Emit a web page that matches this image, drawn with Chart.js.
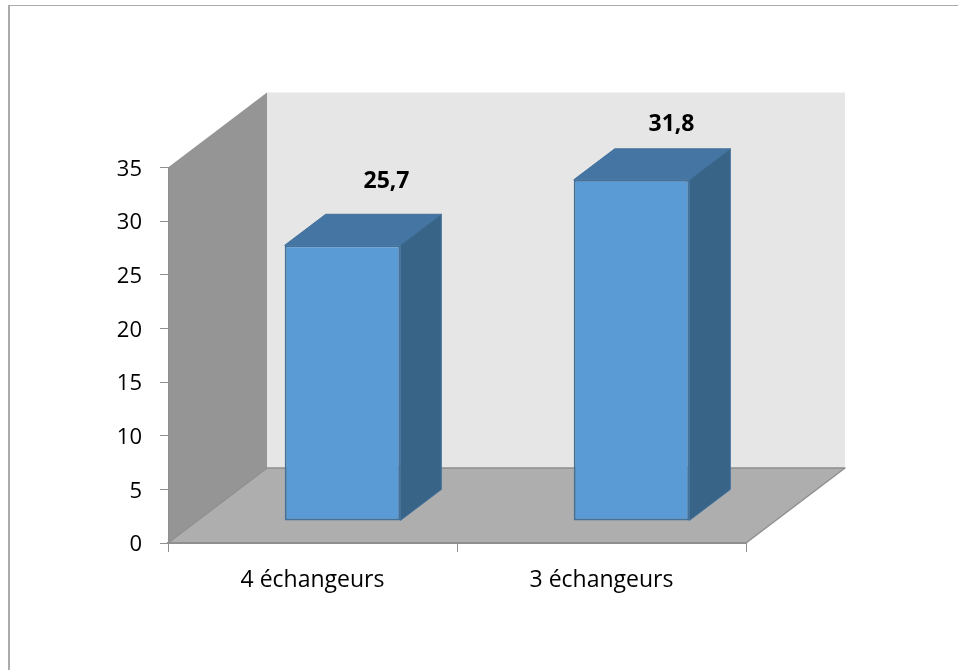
<!DOCTYPE html>
<html lang="fr">
<head>
<meta charset="utf-8">
<title>Échangeurs</title>
<script src="https://cdn.jsdelivr.net/npm/chart.js@4/dist/chart.umd.min.js"></script>
<style>
  html, body { margin: 0; padding: 0; background: #fff; }
  #wrap { position: relative; width: 958px; height: 670px; overflow: hidden; }
  canvas { display: block; }
</style>
</head>
<body>
<div id="wrap"><canvas id="chart" width="958" height="670"></canvas></div>
<script>
const categories = ['4 échangeurs', '3 échangeurs'];
const values = [25.7, 31.8];
const valueLabels = ['25,7', '31,8'];
const yTicks = [0, 5, 10, 15, 20, 25, 30, 35];

// Perspective of the 3D box: how far the back plane sits from the front plane.
const WALL_DX = 99, WALL_DY = 75;
// Column placement inside the box, and the depth of each column.
const BAR_DX = 30, BAR_DY = 22, BAR_DEPTH_X = 41, BAR_DEPTH_Y = 31;
// Value label offsets from the centre of each column's front top edge.
const LABEL_OFFSETS = [{ x: 44, y: -64 }, { x: 40, y: -55 }];

const FONT = '"Open Sans", Lato, sans-serif';

function poly(ctx, pts, fill, stroke, width) {
  ctx.beginPath();
  pts.forEach((p, i) => (i ? ctx.lineTo(p[0], p[1]) : ctx.moveTo(p[0], p[1])));
  ctx.closePath();
  ctx.fillStyle = fill;
  ctx.fill();
  if (stroke) {
    ctx.strokeStyle = stroke;
    ctx.lineWidth = width || 1;
    ctx.lineJoin = 'round';
    ctx.stroke();
  }
}

// Outer frame, side wall, back wall and floor of the box.
const box3d = {
  id: 'box3d',
  beforeDraw(chart) {
    const { ctx, chartArea: a } = chart;
    ctx.save();
    ctx.fillStyle = '#ababab';
    ctx.fillRect(8, 5, 950, 1);
    ctx.fillRect(8, 5, 2, 665);
    poly(ctx, [[a.left + WALL_DX, a.top - WALL_DY], [a.right + WALL_DX, a.top - WALL_DY],
               [a.right + WALL_DX, a.bottom - WALL_DY], [a.left + WALL_DX, a.bottom - WALL_DY]], '#e6e6e6');
    poly(ctx, [[a.left, a.top], [a.left + WALL_DX, a.top - WALL_DY],
               [a.left + WALL_DX, a.bottom - WALL_DY], [a.left, a.bottom]], '#959595');
    poly(ctx, [[a.left, a.bottom], [a.left + WALL_DX, a.bottom - WALL_DY],
               [a.right + WALL_DX, a.bottom - WALL_DY], [a.right, a.bottom]], '#aeaeae', '#8f8f8f', 1.5);
    ctx.restore();
  }
};

// Shifts the columns into the box and adds their top and side faces.
const columns3d = {
  id: 'columns3d',
  beforeDatasetDraw(chart, args) {
    const ctx = chart.ctx;
    ctx.save();
    ctx.translate(BAR_DX, -BAR_DY);
    args.meta.data.forEach(bar => {
      const l = bar.x - bar.width / 2, r = bar.x + bar.width / 2;
      poly(ctx, [[l, bar.y], [l + BAR_DEPTH_X, bar.y - BAR_DEPTH_Y],
                 [r + BAR_DEPTH_X, bar.y - BAR_DEPTH_Y], [r, bar.y]], '#4575a2', '#41719c', 1);
      poly(ctx, [[r, bar.y], [r + BAR_DEPTH_X, bar.y - BAR_DEPTH_Y],
                 [r + BAR_DEPTH_X, bar.base - BAR_DEPTH_Y], [r, bar.base]], '#386487', '#41719c', 1);
    });
  },
  afterDatasetDraw(chart, args) {
    const ctx = chart.ctx;
    args.meta.data.forEach((bar, i) => {
      ctx.fillStyle = '#000';
      ctx.font = 'bold 23px ' + FONT;
      ctx.textAlign = 'center';
      ctx.textBaseline = 'middle';
      ctx.fillText(valueLabels[i], bar.x + LABEL_OFFSETS[i].x, bar.y + LABEL_OFFSETS[i].y);
    });
    ctx.restore();
  }
};

new Chart(document.getElementById('chart'), {
  type: 'bar',
  data: {
    labels: categories,
    datasets: [{
      data: values,
      backgroundColor: '#5b9bd5',
      borderColor: '#41719c',
      borderWidth: 2,
      borderSkipped: false,
      barPercentage: 0.4,
      categoryPercentage: 1,
      clip: false
    }]
  },
  plugins: [box3d, columns3d],
  options: {
    responsive: false,
    animation: false,
    layout: { padding: { top: 167.5, right: 212, left: 0, bottom: 0 } },
    plugins: { legend: { display: false }, tooltip: { enabled: false } },
    scales: {
      x: {
        afterFit(scale) { scale.height = 127; },
        border: { color: '#8f8f8f', width: 2 },
        grid: { drawOnChartArea: false, color: '#8f8f8f', tickLength: 9 },
        ticks: { color: '#000', padding: 15, font: { family: FONT, size: 23 }, maxRotation: 0 }
      },
      y: {
        min: 0,
        max: 35,
        afterFit(scale) { scale.width = 168; },
        afterBuildTicks(scale) { scale.ticks = yTicks.map(value => ({ value })); },
        border: { color: '#8f8f8f', width: 1 },
        grid: { drawOnChartArea: false, color: '#8f8f8f', tickLength: 8 },
        ticks: { color: '#000', padding: 18, labelOffset: 2, font: { family: FONT, size: 22 } }
      }
    }
  }
});
</script>
</body>
</html>
